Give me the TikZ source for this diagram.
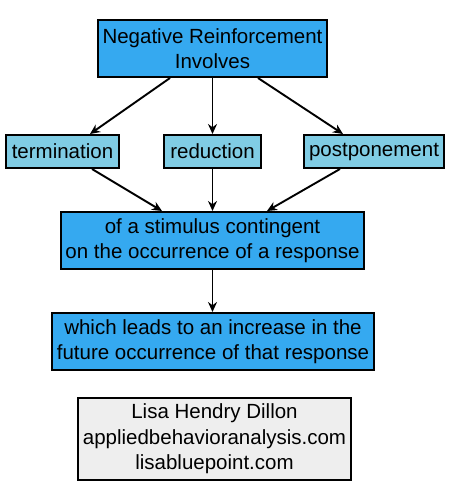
\documentclass[tikz,border=0pt]{standalone}
\usepackage{fontspec}
\setmainfont{Liberation Sans}
\usetikzlibrary{arrows.meta}
\definecolor{cBlue}{HTML}{35A9F0}
\definecolor{cLight}{HTML}{80CCE4}
\definecolor{cGrey}{HTML}{EEEEEE}
\begin{document}
\begin{tikzpicture}[x=1pt,y=-1pt,
		box/.style={draw=black, line width=2pt, align=center, inner sep=0pt,
			font=\fontsize{20.5}{25.5}\selectfont},
		bigbox/.style={box, fill=cBlue, minimum height=57pt},
		smallbox/.style={box, fill=cLight, minimum height=33pt},
		arr/.style={line width=1.9pt, -{Stealth[length=10pt,width=9pt]}}]
		\useasboundingbox (0,0) rectangle (450,500);
		\node[bigbox, minimum width=229pt] (top) at (212.5,48.5) {Negative Reinforcement\\Involves};
		\node[smallbox, minimum width=113pt] (term) at (62.5,151.5) {termination};
		\node[smallbox, minimum width=97pt] (red) at (212.5,151.5) {reduction};
		\node[smallbox, minimum width=140pt] (post) at (374,151.5) {postponement};
		\node[bigbox, minimum width=303pt] (stim) at (212.5,240.5) {of a stimulus contingent\\on the occurrence of a response};
		\node[bigbox, minimum width=322pt] (incr) at (213,341.5) {which leads to an increase in the\\future occurrence of that response};
		\node[box, fill=cGrey, minimum width=273pt, minimum height=82pt] (cred) at (214.5,439)
			{Lisa Hendry Dillon\\appliedbehavioranalysis.com\\lisabluepoint.com};
		% arrows
		\draw[arr] ([xshift=-42.5pt]top.south) -- ([xshift=27.5pt]term.north);
		\draw[arr] (top.south) -- (red.north);
		\draw[arr] ([xshift=45.5pt]top.south) -- ([xshift=-31pt]post.north);
		\draw[arr] ([xshift=29.5pt]term.south) -- ([xshift=-50.5pt]stim.north);
		\draw[arr] (red.south) -- (stim.north);
		\draw[arr] ([xshift=-34pt]post.south) -- ([xshift=54.5pt]stim.north);
		\draw[arr] (stim.south) -- (stim.south |- incr.north);
\end{tikzpicture}
\end{document}
